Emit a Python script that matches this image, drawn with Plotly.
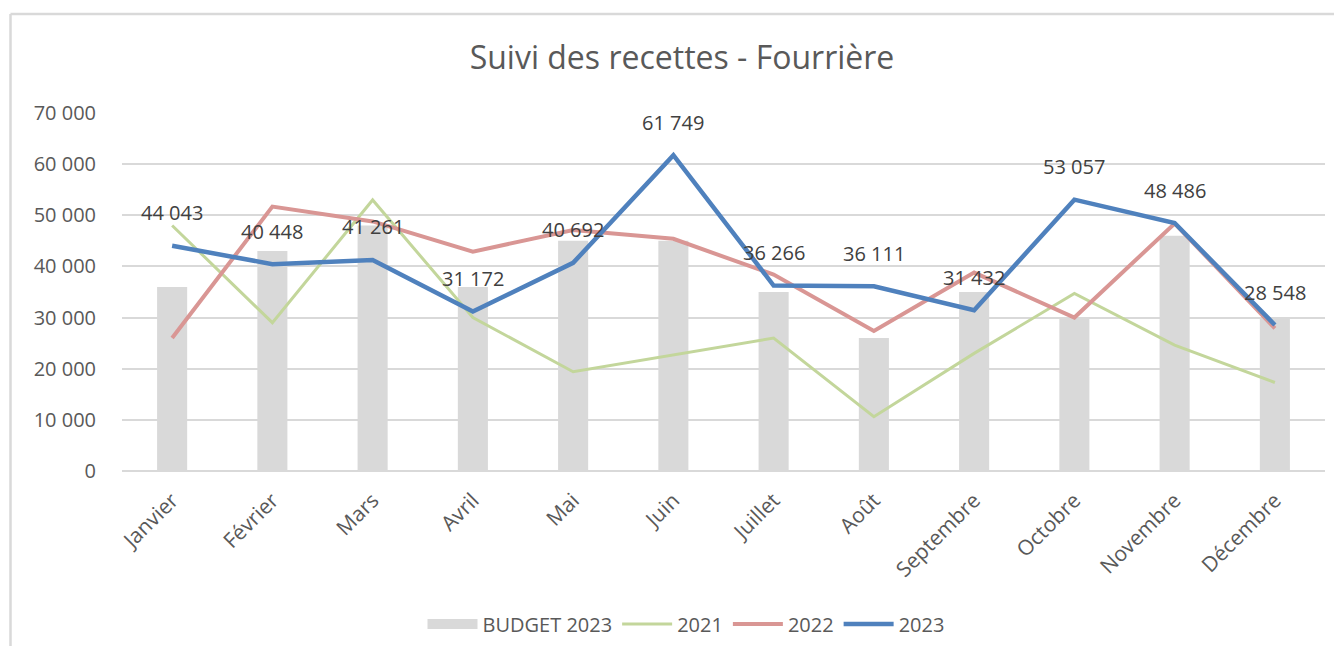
import plotly.graph_objects as go

months = ["Janvier", "Février", "Mars", "Avril", "Mai", "Juin", "Juillet",
          "Août", "Septembre", "Octobre", "Novembre", "Décembre"]
budget_2023 = [36000, 43000, 48000, 36000, 45000, 45000, 35000, 26000, 35000, 30000, 46000, 30000]
y2021 = [48000, 29000, 53000, 30000, 19400, 22700, 26000, 10600, 23000, 34700, 24600, 17300]
y2022 = [26000, 51700, 48800, 42900, 47100, 45400, 38400, 27400, 38800, 30000, 48400, 27900]
y2023 = [44043, 40448, 41261, 31172, 40692, 61749, 36266, 36111, 31432, 53057, 48486, 28548]
y_ticks = [0, 10000, 20000, 30000, 40000, 50000, 60000, 70000]

FONT = "Open Sans"
TXT = "#595959"

# page body has an 8px margin: figure is placed at (8, 8)
OFF = 8
PL, PT, PW, PH = 122 - OFF, 113 - OFF, 1203, 358
W, H = 1342 - 2 * OFF, 654 - 2 * OFF


def px(xp):
    return (xp - OFF - PL) / PW


def py(yp):
    return (PT + PH - (yp - OFF)) / PH


fig = go.Figure()
fig.add_trace(go.Bar(x=months, y=budget_2023, name="BUDGET 2023", showlegend=False,
                     marker=dict(color="#D9D9D9", line=dict(width=0)), width=0.3))
# legend swatch for the budget bars (wide grey block as in the original)
fig.add_trace(go.Scatter(x=[None], y=[None], name="BUDGET 2023", mode="lines",
                         line=dict(color="#D9D9D9", width=14)))
fig.add_trace(go.Scatter(x=months, y=y2021, name="2021", mode="lines",
                         line=dict(color="#C3D69B", width=3)))
fig.add_trace(go.Scatter(x=months, y=y2022, name="2022", mode="lines",
                         line=dict(color="#D99694", width=4)))
fig.add_trace(go.Scatter(x=months, y=y2023, name="2023", mode="lines",
                         line=dict(color="#4F81BD", width=4.5)))

for m, v in zip(months, y2023):
    fig.add_annotation(x=m, y=v, text=f"{v:,}".replace(",", " "), showarrow=False,
                       yshift=33, yanchor="middle",
                       font=dict(family=FONT, size=20, color="#404040"))

# outer chart border (left and top edges visible)
fig.add_shape(type="line", xref="paper", yref="paper", x0=px(10.5), x1=px(1400),
              y0=py(14), y1=py(14), line=dict(color="#D9D9D9", width=2.5))
fig.add_shape(type="line", xref="paper", yref="paper", x0=px(10.5), x1=px(10.5),
              y0=py(700), y1=py(14), line=dict(color="#D9D9D9", width=2.5))

fig.update_layout(
    width=W, height=H,
    margin=dict(l=PL, r=W - PL - PW, t=PT, b=H - PT - PH, autoexpand=False),
    paper_bgcolor="white", plot_bgcolor="white",
    separators=", ",
    title=dict(text="Suivi des recettes - Fourrière", x=px(682), xref="paper",
               xanchor="center", y=1 - (58 - OFF) / H, yanchor="middle",
               font=dict(family=FONT, size=32, color=TXT)),
    font=dict(family=FONT, color=TXT),
    showlegend=True,
    legend=dict(orientation="h", x=px(686), xanchor="center", y=py(624), yanchor="middle",
                font=dict(family=FONT, size=20, color=TXT), itemwidth=50,
                traceorder="normal"),
    bargap=0.7,
)
fig.update_xaxes(showgrid=False, showline=False, ticks="", tickangle=-45, automargin=False,
                 ticklabelstandoff=12,
                 tickfont=dict(family=FONT, size=21, color=TXT))
fig.update_yaxes(range=[0, 70000], tickvals=y_ticks, tickformat=",d", showgrid=True,
                 gridcolor="#D9D9D9", gridwidth=1.5, zeroline=True, zerolinecolor="#D9D9D9",
                 zerolinewidth=1.5, showline=False, ticks="", ticklabelstandoff=25,
                 automargin=False,
                 tickfont=dict(family=FONT, size=20, color=TXT))

fig.write_html("out.html")
